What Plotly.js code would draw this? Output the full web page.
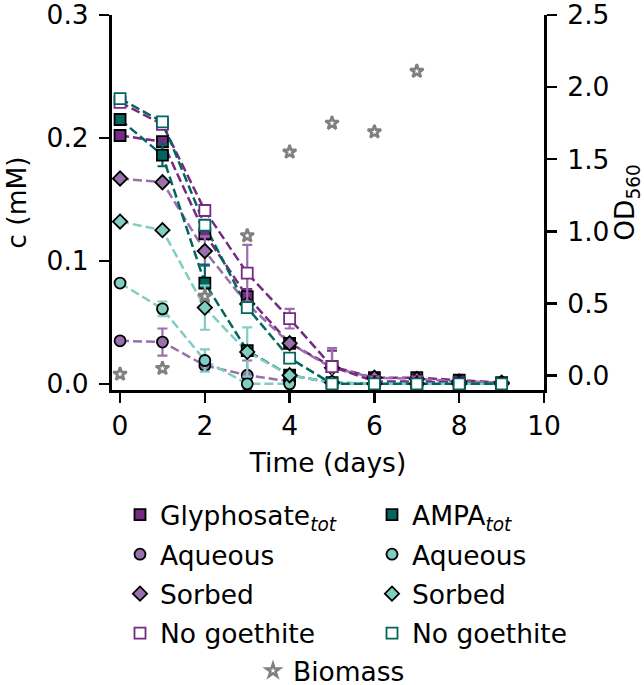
<!DOCTYPE html>
<html>
<head>
<meta charset="utf-8">
<script src="https://cdn.plot.ly/plotly-3.0.1.min.js"></script>
<style>html,body{margin:0;padding:0;background:#fff;}#chart{width:644px;height:685px;}</style>
</head>
<body>
<div id="chart"></div>
<script>
// ---- data ----
const days = [0, 1, 2, 3, 4, 5, 6, 7, 8, 9];
const daysAq = [0, 1, 2, 3, 4];
const biomassDays = [0, 1, 2, 3, 4, 5, 6, 7];

const glyTot = [0.202, 0.197, 0.122, 0.071, 0.033, 0.014, 0.005, 0.005, 0.003, 0.001];
const glyTotErr = [0, 0, 0, 0.006, 0, 0.013, 0, 0, 0, 0];
const glyAq = [0.035, 0.034, 0.015, 0.007, 0.002];
const glyAqErr = [0, 0.011, 0, 0.012, 0];
const glySorb = [0.167, 0.164, 0.108, 0.065, 0.033, 0.013, 0.005, 0.004, 0.002, 0.001];
const glySorbErr = [0, 0, 0.012, 0, 0, 0, 0, 0, 0, 0];
const glyNoGoe = [0.229, 0.211, 0.141, 0.090, 0.053, 0.014, 0.002, 0.002, 0.001, 0.0];
const glyNoGoeErr = [0, 0, 0, 0.023, 0.008, 0.015, 0, 0, 0, 0];

const ampaTot = [0.215, 0.186, 0.082, 0.027, 0.007, 0.001, 0.0, 0.0, 0.0, 0.0];
const ampaTotErr = [0, 0.009, 0.015, 0, 0, 0, 0, 0, 0, 0];
const ampaAq = [0.082, 0.061, 0.019, 0.0, 0.0];
const ampaAqErr = [0, 0.006, 0.009, 0, 0];
const ampaSorb = [0.132, 0.125, 0.062, 0.026, 0.007, 0.001, 0.0, 0.0, 0.0, 0.0];
const ampaSorbErr = [0, 0, 0.018, 0.020, 0, 0, 0, 0, 0, 0];
const ampaNoGoe = [0.232, 0.213, 0.129, 0.062, 0.021, 0.0, 0.0, 0.0, 0.0, 0.0];
const ampaNoGoeErr = [0, 0, 0, 0, 0, 0, 0, 0, 0, 0];

const biomass = [0.01, 0.05, 0.55, 0.97, 1.55, 1.75, 1.69, 2.11];

const xTicks = [0, 2, 4, 6, 8, 10];
const yTicks = [0, 0.1, 0.2, 0.3];
const y2Ticks = [0, 0.5, 1, 1.5, 2, 2.5];

const labels = {
  glyTot: 'Glyphosate<sub><i>tot</i></sub>',
  ampaTot: 'AMPA<sub><i>tot</i></sub>',
  aq: 'Aqueous', sorb: 'Sorbed', noGoe: 'No goethite', bio: 'Biomass'
};

// ---- styles ----
const C = {darkP: '#762a83', lightP: '#9970ab', darkT: '#01665e', lightT: '#80cdc1', grey: '#808080'};
const FONT = 'DejaVu Sans, sans-serif';
const FS = 26.5;
const DASH = '9px,4px';

function lineTrace(x, y, color) {
  return {x: x, y: y, type: 'scatter', mode: 'lines', showlegend: false, hoverinfo: 'skip',
    line: {color: color, width: 2.5, dash: DASH}, xaxis: 'x', yaxis: 'y'};
}
function markTrace(x, y, err, name, symbol, fill, edge, errColor, legend, group) {
  return {x: x, y: y, type: 'scatter', mode: 'markers', name: name, legend: legend, legendgroup: group,
    marker: {symbol: symbol, size: 11, color: fill, line: {color: edge, width: 1.8}},
    error_y: {type: 'data', array: err, visible: true, color: errColor, thickness: 2.2, width: 5},
    xaxis: 'x', yaxis: 'y'};
}

const traces = [
  lineTrace(days, glyTot, C.darkP),
  lineTrace(daysAq, glyAq, C.lightP),
  lineTrace(days, glySorb, C.lightP),
  lineTrace(days, glyNoGoe, C.darkP),
  lineTrace(days, ampaTot, C.darkT),
  lineTrace(daysAq, ampaAq, C.lightT),
  lineTrace(days, ampaSorb, C.lightT),
  lineTrace(days, ampaNoGoe, C.darkT),
  markTrace(days, glyTot, glyTotErr, labels.glyTot, 'square', C.darkP, '#000', C.darkP, 'legend', 'g1'),
  markTrace(daysAq, glyAq, glyAqErr, labels.aq, 'circle', C.lightP, '#000', C.lightP, 'legend', 'g2'),
  markTrace(days, glySorb, glySorbErr, labels.sorb, 'diamond', C.lightP, '#000', C.lightP, 'legend', 'g3'),
  markTrace(days, glyNoGoe, glyNoGoeErr, labels.noGoe, 'square', '#ffffff', C.darkP, C.lightP, 'legend', 'g4'),
  markTrace(days, ampaTot, ampaTotErr, labels.ampaTot, 'square', C.darkT, '#000', C.darkT, 'legend2', 'a1'),
  markTrace(daysAq, ampaAq, ampaAqErr, labels.aq, 'circle', C.lightT, '#000', C.lightT, 'legend2', 'a2'),
  markTrace(days, ampaSorb, ampaSorbErr, labels.sorb, 'diamond', C.lightT, '#000', C.lightT, 'legend2', 'a3'),
  markTrace(days, ampaNoGoe, ampaNoGoeErr, labels.noGoe, 'square', '#ffffff', C.darkT, C.lightT, 'legend2', 'a4'),
  {x: biomassDays, y: biomass, type: 'scatter', mode: 'markers', name: labels.bio, legend: 'legend3',
    marker: {symbol: 'star', size: 10, color: '#ffffff', line: {color: C.grey, width: 2.6}},
    xaxis: 'x', yaxis: 'y2'}
];

const axisCommon = {
  showgrid: false, zeroline: false, showline: true, linecolor: '#000', linewidth: 3,
  ticks: 'outside', ticklen: 10, tickwidth: 2.5, tickcolor: '#000', automargin: false,
  ticklabeloverflow: 'allow',
  tickfont: {family: FONT, size: FS, color: '#000'}
};
const legCommon = {font: {family: FONT, size: FS, color: '#000'}, bgcolor: 'rgba(0,0,0,0)',
  xanchor: 'left', yanchor: 'top', tracegroupgap: 2, orientation: 'v'};

const layout = {
  width: 644, height: 685,
  margin: {l: 112, r: 100, t: 15, b: 295, pad: 0, autoexpand: false},
  paper_bgcolor: '#fff', plot_bgcolor: '#fff',
  font: {family: FONT, size: FS, color: '#000'},
  xaxis: Object.assign({}, axisCommon, {range: [-0.19, 10], tickvals: xTicks,
    title: {text: 'Time (days)', font: {family: FONT, size: FS}, standoff: 14}}),
  yaxis: Object.assign({}, axisCommon, {range: [-0.005, 0.3], tickvals: yTicks, tickformat: '.1f',
    ticklabelstandoff: 5,
    title: {text: 'c (mM)', font: {family: FONT, size: FS}, standoff: 13}}),
  yaxis2: Object.assign({}, axisCommon, {range: [-0.1, 2.5], tickvals: y2Ticks, tickformat: '.1f',
    overlaying: 'y', side: 'right', ticklabelstandoff: 5,
    title: {text: 'OD<sub>560</sub>', font: {family: FONT, size: FS}, standoff: 13}}),
  legend: Object.assign({}, legCommon, {x: (120 - 112) / 432, y: (390 - 491) / 375}),
  legend2: Object.assign({}, legCommon, {x: (372 - 112) / 432, y: (390 - 491) / 375}),
  legend3: Object.assign({}, legCommon, {x: (253 - 112) / 432, y: (390 - 647) / 375}),
  showlegend: true
};

Plotly.newPlot('chart', traces, layout, {displayModeBar: false, staticPlot: true});
</script>
</body>
</html>
